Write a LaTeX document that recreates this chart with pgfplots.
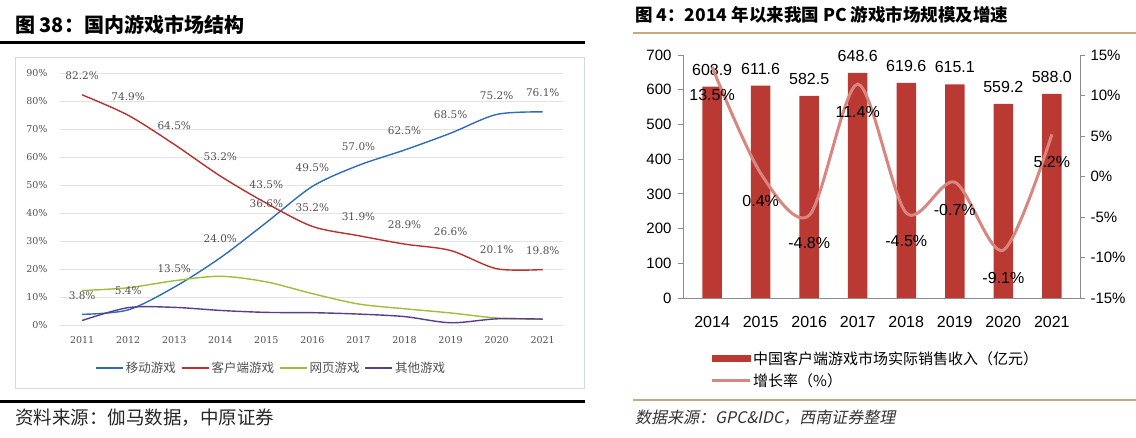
\documentclass[border=0pt]{standalone}
\usepackage{pgfplots}
\pgfplotsset{compat=1.18}
\usepackage{fontspec}
\setmainfont{Liberation Sans}
\newfontfamily\cjk{Noto Sans CJK SC}
\newfontfamily\cjkit[FakeSlant=0.2]{Noto Sans CJK SC}
\newfontfamily\lserif{DejaVu Serif}
\definecolor{mblue}{HTML}{2E6DB4}
\definecolor{mred}{HTML}{B8312F}
\definecolor{mgreen}{HTML}{9FBD3A}
\definecolor{mpurple}{HTML}{5A3E8C}
\definecolor{gridgray}{HTML}{E3E3E3}
\definecolor{boxgray}{HTML}{D5D8DC}
\definecolor{labgray}{HTML}{505050}
\definecolor{barred}{HTML}{BA3A33}
\definecolor{growth}{HTML}{D98580}
\definecolor{axisgray}{HTML}{8C8C8C}
\definecolor{tan}{HTML}{C8A97E}
\pgfplotsset{/pgf/number format/assume math mode=true,
  pctlab/.style={nodes near coords={\pgfmathprintnumber[fixed,precision=1,fixed zerofill]{\pgfplotspointmeta}\%},
    every node near coord/.append style={anchor=center, yshift=19pt,
    font=\lserif\fontsize{10.5}{12}\selectfont, text=labgray}}}
\begin{document}
\begin{tikzpicture}
\path[use as bounding box] (0pt,0pt) rectangle (1136pt,438pt);
% ---------------- left panel decorations
\node[anchor=west, inner sep=0pt, font=\cjk\bfseries\fontsize{20}{22}\selectfont] at (15pt,413pt) {图 38：国内游戏市场结构};
\draw[line width=3pt] (0pt,395pt) -- (585pt,395pt);
\draw[boxgray, line width=0.8pt] (15pt,50pt) rectangle (584pt,381pt);
\draw[line width=3pt] (0pt,36pt) -- (585pt,36pt);
\node[anchor=west, inner sep=0pt, font=\cjk\fontsize{18.5}{20}\selectfont, text=black!85] at (15pt,20pt) {资料来源：伽马数据，中原证券};
% ---------------- left chart
\begin{axis}[
  at={(60pt,113pt)}, anchor=south west, scale only axis,
  width=503pt, height=252pt,
  xmin=2010.52, xmax=2021.44, ymin=0, ymax=90,
  xtick={2011,...,2021},
  xticklabels={2011,2012,2013,2014,2015,2016,2017,2018,2019,2020,2021},
  ytick={0,10,...,90},
  yticklabels={0\%,10\%,20\%,30\%,40\%,50\%,60\%,70\%,80\%,90\%},
  ymajorgrids, grid style={draw=gridgray, line width=0.7pt},
  axis line style={draw=none}, major tick length=0pt,
  tick label style={font=\lserif\fontsize{9.5}{11}\selectfont, text=labgray},
  yticklabel style={anchor=east, xshift=-9pt},
  xticklabel style={yshift=-8pt},
  clip=false,
  legend columns=4,
  legend style={at={(0.42,-0.17)}, anchor=center, draw=none, fill=none,
    font=\cjk\fontsize{12.5}{14}\selectfont, text=labgray,
    /tikz/every even column/.append style={column sep=3pt}},
  legend image code/.code={\draw[#1, line width=1.6pt] (0pt,0pt) -- (27pt,0pt);},
]
\addplot[smooth, tension=0.5, color=mblue, line width=1.4pt, pctlab] coordinates {
 (2011,3.8) (2012,5.4) (2013,13.5) (2014,24.0) (2015,36.6) (2016,49.5)
 (2017,57.0) (2018,62.5) (2019,68.5) (2020,75.2) (2021,76.1)};
\addlegendentry{移动游戏\hspace{14pt}}
\addplot[smooth, tension=0.5, color=mred, line width=1.4pt, pctlab] coordinates {
 (2011,82.2) (2012,74.9) (2013,64.5) (2014,53.2) (2015,43.5) (2016,35.2)
 (2017,31.9) (2018,28.9) (2019,26.6) (2020,20.1) (2021,19.8)};
\addlegendentry{客户端游戏\hspace{14pt}}
\addplot[smooth, tension=0.5, color=mgreen, line width=1.4pt] coordinates {
 (2011,12.3) (2012,13.3) (2013,15.8) (2014,17.4) (2015,15.4) (2016,11.2)
 (2017,7.5) (2018,5.8) (2019,4.3) (2020,2.5) (2021,2.1)};
\addlegendentry{网页游戏\hspace{14pt}}
\addplot[smooth, tension=0.5, color=mpurple, line width=1.4pt] coordinates {
 (2011,1.6) (2012,6.2) (2013,6.3) (2014,5.2) (2015,4.5) (2016,4.4)
 (2017,3.9) (2018,3.0) (2019,0.8) (2020,2.2) (2021,2.1)};
\addlegendentry{其他游戏}
\end{axis}
% ---------------- right panel decorations
\node[anchor=west, inner sep=0pt, font=\cjk\bfseries\fontsize{17.5}{20}\selectfont] at (635pt,423pt) {图 4：2014 年以来我国 PC 游戏市场规模及增速};
\draw[tan, line width=1.5pt] (633pt,405pt) -- (1136pt,405pt);
\draw[tan, line width=1.5pt] (633pt,38pt) -- (1136pt,38pt);
\node[anchor=west, inner sep=0pt, font=\cjkit\fontsize{16}{18}\selectfont, text=black!80] at (635pt,20pt) {数据来源：GPC\&IDC，西南证券整理};
% ---------------- right chart: bars
\begin{axis}[
  at={(683pt,140pt)}, anchor=south west, scale only axis,
  width=397pt, height=243pt,
  xmin=2013.4, xmax=2021.58, ymin=0, ymax=700,
  ybar, bar width=19.5pt,
  axis y line*=left, axis x line*=bottom,
  axis line style={-, draw=axisgray, line width=0.8pt},
  xtick={2014,...,2021},
  xticklabels={2014,2015,2016,2017,2018,2019,2020,2021},
  ytick={0,100,...,700},
  yticklabels={0,100,200,300,400,500,600,700},
  tick align=outside, major tick length=5pt,
  tick style={draw=axisgray, line width=0.8pt},
  xtick style={draw=none},
  xticklabel style={font=\fontsize{16}{18}\selectfont, yshift=-10pt},
  yticklabel style={font=\fontsize{15}{17}\selectfont, xshift=-3pt},
  clip=false,
  every node near coord/.append style={anchor=center, yshift=17pt,
    font=\fontsize{16}{18}\selectfont, text=black},
  nodes near coords={\pgfmathprintnumber[fixed,precision=1,fixed zerofill]{\pgfplotspointmeta}},
]
\addplot[fill=barred, draw=none] coordinates {
 (2014,608.9) (2015,611.6) (2016,582.5) (2017,648.6)
 (2018,619.6) (2019,615.1) (2020,559.2) (2021,588.0)};
\end{axis}
% ---------------- right chart: growth
\begin{axis}[
  at={(683pt,140pt)}, anchor=south west, scale only axis,
  width=397pt, height=243pt,
  xmin=2013.4, xmax=2021.58, ymin=-15, ymax=15,
  axis y line*=right, axis x line=none,
  axis line style={-, draw=axisgray, line width=0.8pt},
  ytick={-15,-10,...,15},
  yticklabels={-15\%,-10\%,-5\%,0\%,5\%,10\%,15\%},
  tick align=outside, major tick length=5pt,
  tick style={draw=axisgray, line width=0.8pt},
  yticklabel style={font=\fontsize{15}{17}\selectfont, xshift=2pt},
  clip=false,
  legend cell align=left,
  legend style={at={(0.068,-0.21)}, anchor=north west, draw=none, fill=none,
    font=\cjk\fontsize{15}{17}\selectfont, row sep=4pt, inner sep=0pt},
]
\addlegendimage{legend image code/.code={\fill[barred] (0pt,-3pt) rectangle (38pt,3pt);}}
\addlegendentry{中国客户端游戏市场实际销售收入（亿元）}
\addlegendimage{legend image code/.code={\draw[growth, line width=3pt] (0pt,0pt) -- (38pt,0pt);}}
\addlegendentry{增长率（\%）}
\addplot[smooth, color=growth, line width=3pt,
  nodes near coords={\pgfmathprintnumber[fixed,precision=1,fixed zerofill]{\pgfplotspointmeta}\%},
  every node near coord/.append style={anchor=center, yshift=-28pt,
    font=\fontsize{16}{18}\selectfont, text=black}] coordinates {
 (2014,13.5) (2015,0.4) (2016,-4.8) (2017,11.4)
 (2018,-4.5) (2019,-0.7) (2020,-9.1) (2021,5.2)};
\end{axis}
\end{tikzpicture}
\end{document}
